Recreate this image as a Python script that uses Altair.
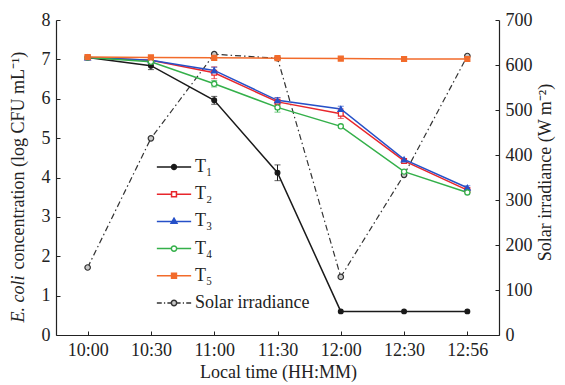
import altair as alt
import pandas as pd

times = ["10:00", "10:30", "11:00", "11:30", "12:00", "12:30", "12:56"]
series_names = ["T₁", "T₂", "T₃", "T₄", "T₅"]
t1 = [7.05, 6.84, 5.96, 4.12, 0.60, 0.60, 0.60]
t2 = [7.05, 6.98, 6.66, 5.92, 5.62, 4.42, 3.68]
t3 = [7.05, 6.98, 6.72, 5.96, 5.74, 4.46, 3.74]
t4 = [7.05, 6.94, 6.38, 5.78, 5.30, 4.15, 3.62]
t5 = [7.06, 7.05, 7.04, 7.03, 7.02, 7.01, 7.01]
t1_err = [0.00, 0.10, 0.10, 0.20, 0.00, 0.00, 0.00]
t2_err = [0.00, 0.06, 0.15, 0.10, 0.12, 0.00, 0.00]
t3_err = [0.00, 0.05, 0.08, 0.07, 0.07, 0.00, 0.05]
t4_err = [0.00, 0.00, 0.08, 0.12, 0.00, 0.00, 0.00]
t5_err = [0.00, 0.00, 0.00, 0.00, 0.00, 0.00, 0.00]
solar = [150, 437, 624, 615, 129, 356, 620]
solar_name = "Solar irradiance"

colors = ["#1a1a1a", "#e8262c", "#2650c8", "#34b04a", "#f26b2b"]
fills = ["#1a1a1a", "white", "#2650c8", "white", "#f26b2b"]
shapes = ["circle", "square", "triangle-up", "circle", "square"]
sizes = [22, 22, 30, 26, 24]

rows = []
for name, vals, errs in zip(series_names, [t1, t2, t3, t4, t5],
                            [t1_err, t2_err, t3_err, t4_err, t5_err]):
    for t, v, e in zip(times, vals, errs):
        rows.append({"time": t, "series": name, "value": v, "err": e,
                     "lo": v - e, "hi": v + e})
df = pd.DataFrame(rows)
solar_df = pd.DataFrame({"time": times, "solar": solar})

FONT = "Liberation Serif"
FS = 18

x_enc = alt.X("time:N", sort=times,
              scale=alt.Scale(type="point", padding=0.5, domain=times),
              axis=alt.Axis(title="Local time (HH:MM)", labelAngle=0,
                            titleX=222, titleY=37, titleBaseline="middle"))
left_scale = alt.Scale(domain=[0, 8], nice=False)
left_axis = alt.Axis(title="concentration (log CFU mL⁻¹)",
                     values=list(range(9)), titleX=-38, titleY=249, labelOverlap=False,
                     titleBaseline="middle", titleAngle=270, titleAlign="left")
y_left = alt.Y("value:Q", scale=left_scale, axis=left_axis)
y_lo = alt.Y("lo:Q", scale=left_scale, axis=left_axis)
y_hi = alt.Y("hi:Q", scale=left_scale, axis=left_axis)
color_enc = alt.Color("series:N", scale=alt.Scale(domain=series_names, range=colors),
                      legend=None)

base = alt.Chart(df)
lines = base.mark_line(strokeWidth=1.5).encode(x=x_enc, y=y_left, color=color_enc)

errs = base.transform_filter(alt.datum.err > 0)
err_rule = errs.mark_rule(strokeWidth=1).encode(x=x_enc, y=y_lo, y2="hi:Q", color=color_enc)
err_lo = errs.mark_tick(size=6, thickness=1).encode(x=x_enc, y=y_lo, color=color_enc)
err_hi = errs.mark_tick(size=6, thickness=1).encode(x=x_enc, y=y_hi, color=color_enc)

point_layers = []
for i, name in enumerate(series_names):
    point_layers.append(
        base.transform_filter(alt.datum.series == name)
        .mark_point(shape=shapes[i], size=sizes[i], stroke=colors[i], fill=fills[i],
                    opacity=1, strokeWidth=1.3, filled=False)
        .encode(x=x_enc, y=y_left)
    )

# legend paths (line + marker)
def circ(r):
    return f"M{r},0A{r},{r},0,1,1,{-r},0A{r},{r},0,1,1,{r},0Z"

L = "M-1.4,0H1.4"
LB = "M-1.4,0H-0.24M0.24,0H1.4"
LD = "M-1.4,0H-1.0M-0.82,0H-0.72M-0.54,0H-0.24M0.24,0H0.54M0.72,0H0.82M1.0,0H1.4"
legend_paths = [
    L + circ(0.2),
    LB + "M-0.2,-0.2H0.2V0.2H-0.2Z",
    L + "M0,-0.26L0.24,0.16H-0.24Z",
    LB + circ(0.22),
    L + "M-0.2,-0.2H0.2V0.2H-0.2Z",
    LD + circ(0.22),
]
legend_domain = series_names + [solar_name]
leg = dict(title=None, orient="none", legendX=105, legendY=134)
legend_layer = base.transform_filter("false").mark_point(opacity=1, strokeWidth=1.5).encode(
    x=x_enc, y=y_left,
    shape=alt.Shape("series:N", scale=alt.Scale(domain=legend_domain, range=legend_paths),
                    legend=alt.Legend(**leg)),
    stroke=alt.Stroke("series:N", scale=alt.Scale(domain=legend_domain, range=colors + ["#333333"]),
                      legend=alt.Legend(**leg)),
    fill=alt.Fill("series:N", scale=alt.Scale(domain=legend_domain, range=fills + ["#c8c8c8"]),
                  legend=alt.Legend(**leg)),
)

left = alt.layer(lines, err_rule, err_lo, err_hi, *point_layers, legend_layer)

# italic part of the left axis title
italic_title = base.transform_filter("false").mark_point().encode(
    x=x_enc,
    y=alt.Y("hi:Q", scale=alt.Scale(domain=[0, 8], nice=False),
            axis=alt.Axis(orient="left", title="E. coli", titleFontStyle="italic",
                          labels=False, ticks=False, domain=False,
                          titleX=-38, titleY=302, titleBaseline="middle",
                          titleAngle=270, titleAlign="left")),
)

y_right = alt.Y("solar:Q", scale=alt.Scale(domain=[0, 700], nice=False),
                axis=alt.Axis(orient="right", title="Solar irradiance (W m⁻²)",
                              values=list(range(0, 701, 100)), titleAngle=270, labelOverlap=False,
                              titleX=46, titleY=152, titleBaseline="middle"))
sbase = alt.Chart(solar_df)
solar_line = sbase.mark_line(strokeDash=[6, 3, 1.5, 3], color="#333333", strokeWidth=1.2).encode(
    x=x_enc, y=y_right)
solar_pts = sbase.mark_point(shape="circle", size=30, stroke="#333333", fill="#c8c8c8",
                             filled=False, opacity=1, strokeWidth=1.2).encode(x=x_enc, y=y_right)
right = alt.layer(solar_line, solar_pts)

chart = alt.layer(right, left, italic_title).resolve_scale(y="independent").properties(
    width=443, height=315,
    autosize=alt.AutoSizeParams(type="none"),
    padding={"left": 56, "top": 20, "right": 66, "bottom": 50},
).configure_view(stroke=None).configure_axis(
    grid=False, domainColor="#222222", tickColor="#222222", domainWidth=1.2,
    tickSize={"expr": "-4"}, labelPadding=10,
    labelFont=FONT, labelFontSize=FS, labelColor="#222222",
    titleFont=FONT, titleFontSize=FS, titleColor="#222222", titleFontWeight="normal",
).configure_legend(
    labelFont=FONT, labelFontSize=FS, labelColor="#222222",
    symbolSize=600, symbolStrokeWidth=1.5, labelOffset=8, rowPadding=5.2, padding=0,
)

chart.save("out.html", embed_options={"renderer": "svg", "actions": False})
